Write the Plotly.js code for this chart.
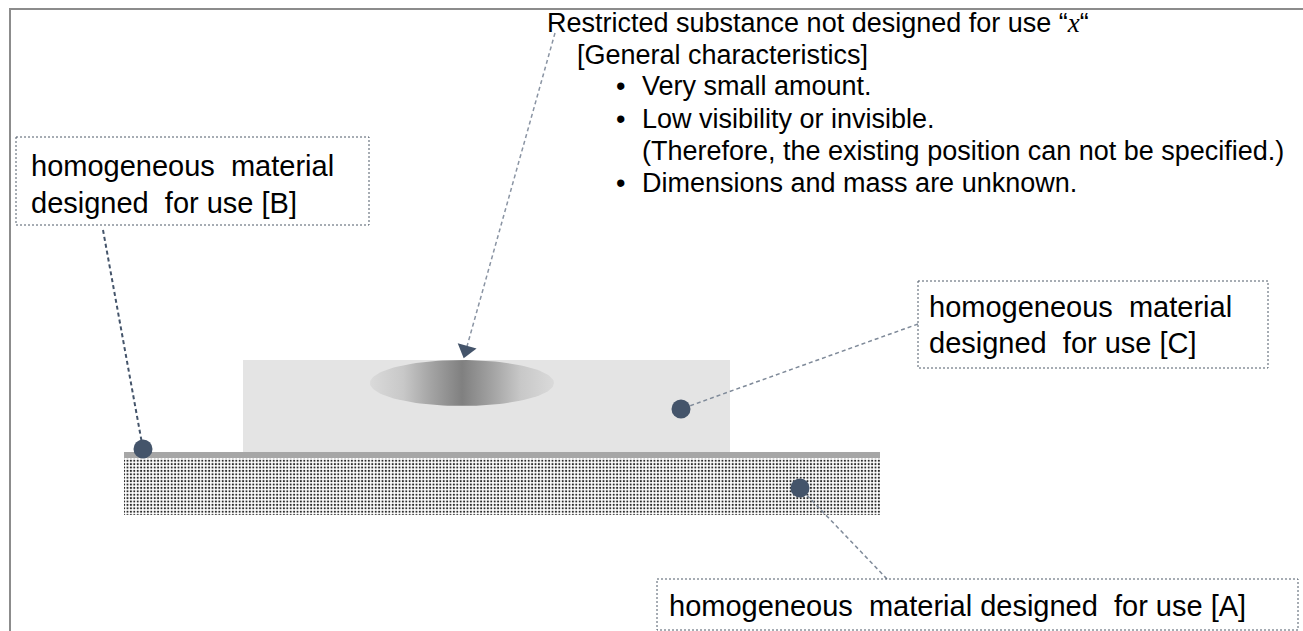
<!DOCTYPE html>
<html>
<head>
<meta charset="utf-8">
<script src="https://cdn.plot.ly/plotly-3.0.1.min.js"></script>
<style>
  html, body { margin: 0; padding: 0; background: #ffffff; }
  #chart { width: 1303px; height: 631px; }
</style>
</head>
<body>
<div id="chart"></div>
<script>
// ---------- diagram data (pixel-like coordinates on hidden axes) ----------
const pageW = 1303;
const pageH = 631;

// outer frame (top and left edges)
const frameX = [10, 10, 1303];
const frameY = [631, 9, 9];

// material layers: substrate [A] (dotted) and component [C]
const layerNames = ['A', 'C'];
const layerLeft = [124, 243];
const layerRight = [880, 730];
const layerTop = [458, 360];
const layerBottom = [515, 452];
const layerColors = ['#ffffff', '#e4e4e4'];

// thin grey top strip of substrate
const stripLeft = [124];
const stripRight = [880];
const stripTop = [452];
const stripBottom = [458];

// restricted substance "x" (ellipse)
const blobCenterX = [462];
const blobCenterY = [383];
const blobRadiusX = [92];
const blobRadiusY = [23];

// location dots for materials B, C, A
const dotLabels = ['B', 'C', 'A'];
const dotX = [143, 681, 800];
const dotY = [449, 409, 488];

// leader lines from label boxes to dots
const leaderFromX = [103, 918, 887];
const leaderFromY = [230, 324, 579];
const leaderToX = [143, 681, 800];
const leaderToY = [449, 409, 488];
const leaderColors = ['#44546a', '#7f8a99', '#7f8a99'];
const leaderWidths = [2, 1.5, 1.5];

// arrow from explanatory text to the substance
const arrowX = [555, 466];
const arrowY = [33, 350];

// label boxes
const boxLabels = ['B', 'C', 'A'];
const boxLeft = [16, 918, 657];
const boxRight = [369, 1268, 1298];
const boxTop = [137, 281, 579];
const boxBottom = [225, 368, 630];

// label box texts
const boxTextLines = [
  'homogeneous\u00a0 material',
  'designed\u00a0 for use [B]',
  'homogeneous\u00a0 material',
  'designed\u00a0 for use [C]',
  'homogeneous\u00a0 material\u00a0designed\u00a0 for\u00a0use [A]'
];
const boxTextX = [29, 29, 927, 927, 667];
const boxTextY = [166, 203, 307, 343, 606];

// explanatory text block
const noteLines = [
  'Restricted substance not designed for use \u201c<span style="font-family:\'Liberation Serif\', \'Times New Roman\', serif"><i>x</i></span>\u201c',
  '[General characteristics]',
  'Very small amount.',
  'Low visibility or invisible.',
  '(Therefore, the existing position can not be specified.)',
  'Dimensions and mass are unknown.'
];
const noteX = [545, 575, 640, 640, 640, 640];
const noteY = [23, 55, 86, 119, 151, 183];
const bulletRows = [2, 3, 5];
const bulletX = 614;

// ---------- build figure ----------
const FONT = '"Liberation Sans", Arial, Helvetica, sans-serif';
const traces = [];
const shapes = [];
const annotations = [];

// frame
traces.push({
  type: 'scatter', mode: 'lines', x: frameX, y: frameY,
  line: { color: '#8c8c8c', width: 2 }, hoverinfo: 'skip'
});

// substrate: dotted pattern bar
traces.push({
  type: 'bar',
  x: [(layerLeft[0] + layerRight[0]) / 2],
  y: [layerBottom[0] - layerTop[0]],
  base: [layerTop[0]],
  width: [layerRight[0] - layerLeft[0]],
  marker: {
    color: layerColors[0],
    line: { width: 0 },
    pattern: { shape: '.', fgcolor: '#2a2a2a', bgcolor: '#ffffff', size: 3.4, solidity: 0.32 }
  },
  hoverinfo: 'skip'
});

// grey strip on top of substrate
shapes.push({
  type: 'rect', xref: 'x', yref: 'y',
  x0: stripLeft[0], x1: stripRight[0], y0: stripTop[0], y1: stripBottom[0],
  fillcolor: '#a6a6a6', line: { width: 0 }, layer: 'below'
});

// component C block
shapes.push({
  type: 'rect', xref: 'x', yref: 'y',
  x0: layerLeft[1], x1: layerRight[1], y0: layerTop[1], y1: layerBottom[1],
  fillcolor: layerColors[1], line: { width: 0 }, layer: 'below'
});

// ellipse outline (geometric primitive) with gradient fill
const ex = [], ey = [];
for (let k = 0; k <= 120; k++) {
  const t = (k / 120) * 2 * Math.PI;
  ex.push(blobCenterX[0] + blobRadiusX[0] * Math.cos(t));
  ey.push(blobCenterY[0] + blobRadiusY[0] * Math.sin(t));
}
traces.push({
  type: 'scatter', mode: 'lines', x: ex, y: ey, fill: 'toself',
  line: { width: 0, color: 'rgba(0,0,0,0)' },
  fillgradient: {
    type: 'horizontal',
    colorscale: [[0, '#dadada'], [0.18, '#c8c8c8'], [0.33, '#a4a4a4'], [0.5, '#808080'],
                 [0.67, '#a4a4a4'], [0.82, '#c8c8c8'], [1, '#dadada']]
  },
  hoverinfo: 'skip'
});

// leader lines
for (let i = 0; i < dotLabels.length; i++) {
  traces.push({
    type: 'scatter', mode: 'lines',
    x: [leaderFromX[i], leaderToX[i]], y: [leaderFromY[i], leaderToY[i]],
    line: { color: leaderColors[i], width: leaderWidths[i], dash: '4px,3px' },
    hoverinfo: 'skip'
  });
}

// arrow line and head
traces.push({
  type: 'scatter', mode: 'lines', x: arrowX, y: arrowY,
  line: { color: '#8a94a3', width: 1.5, dash: '4px,3px' }, hoverinfo: 'skip'
});
const arrowAngle = Math.atan2(arrowX[0] - arrowX[1], arrowY[1] - arrowY[0]) * 180 / Math.PI;
traces.push({
  type: 'scatter', mode: 'markers', x: [arrowX[1]], y: [arrowY[1]],
  marker: { symbol: 'triangle-down', size: 17, color: '#44546a', angle: arrowAngle, line: { width: 0 } },
  hoverinfo: 'skip'
});

// dots
traces.push({
  type: 'scatter', mode: 'markers', x: dotX, y: dotY,
  marker: { size: 19, color: '#44546a', line: { width: 0 } },
  hoverinfo: 'skip'
});

// label boxes
for (let i = 0; i < boxLabels.length; i++) {
  shapes.push({
    type: 'rect', xref: 'x', yref: 'y',
    x0: boxLeft[i], x1: boxRight[i], y0: boxTop[i], y1: boxBottom[i],
    fillcolor: 'rgba(255,255,255,0)',
    line: { color: '#4f5a68', width: 1, dash: '2px,2px' }, layer: 'above'
  });
}

// box texts
for (let i = 0; i < boxTextLines.length; i++) {
  annotations.push({
    xref: 'x', yref: 'y', x: boxTextX[i], y: boxTextY[i],
    xanchor: 'left', yanchor: 'middle', showarrow: false,
    text: boxTextLines[i],
    font: { family: FONT, size: 29, color: '#000000' }
  });
}

// note texts
for (let i = 0; i < noteLines.length; i++) {
  annotations.push({
    xref: 'x', yref: 'y', x: noteX[i], y: noteY[i],
    xanchor: 'left', yanchor: 'middle', showarrow: false,
    text: noteLines[i],
    font: { family: FONT, size: 27, color: '#000000' }
  });
}
bulletRows.forEach(function (r) {
  annotations.push({
    xref: 'x', yref: 'y', x: bulletX, y: noteY[r],
    xanchor: 'left', yanchor: 'middle', showarrow: false,
    text: '\u2022',
    font: { family: FONT, size: 27, color: '#000000' }
  });
});

const layout = {
  width: pageW, height: pageH,
  margin: { l: 0, r: 0, t: 0, b: 0, pad: 0 },
  paper_bgcolor: '#ffffff', plot_bgcolor: '#ffffff',
  showlegend: false,
  xaxis: { range: [0, pageW], visible: false, fixedrange: true },
  yaxis: { range: [pageH, 0], visible: false, fixedrange: true },
  shapes: shapes,
  annotations: annotations,
  bargap: 0
};

Plotly.newPlot('chart', traces, layout, { staticPlot: true, displayModeBar: false });
</script>
</body>
</html>
